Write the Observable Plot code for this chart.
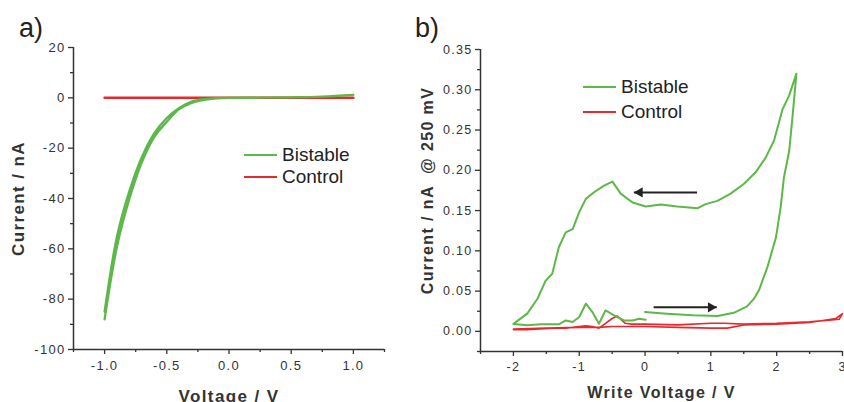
<!DOCTYPE html>
<html><head><meta charset="utf-8">
<script src="https://cdn.jsdelivr.net/npm/d3@7"></script>
<script src="https://cdn.jsdelivr.net/npm/@observablehq/plot@0.6"></script>
<style>
body{margin:0;background:#fff;}
#wrap{position:relative;width:844px;height:402px;overflow:hidden;font-family:"Liberation Sans",Arial,sans-serif;background:#fff;}
.panel{position:absolute;top:0;}
.lab{position:absolute;font-size:27px;line-height:27px;color:#222;}
.leg{position:absolute;font-size:19px;line-height:22px;height:22px;color:#222;display:flex;align-items:center;white-space:nowrap;}
.leg .sw{display:inline-block;width:33px;height:2.5px;margin-right:5px;}
g[aria-label="y-axis tick label"] text, g[aria-label="x-axis tick label"] text{letter-spacing:1.3px;}
g[aria-label="text"] text{letter-spacing:1.4px;}
</style></head>
<body>
<div id="wrap">
  <div class="panel" id="pa" style="left:0;"></div>
  <div class="panel" id="pb" style="left:420px;"></div>
  <div class="lab" style="left:19px;top:15px;">a)</div>
  <div class="lab" style="left:415px;top:15px;">b)</div>
  <div class="leg" style="left:244px;top:144px;"><span class="sw" id="lgA1"></span>Bistable</div>
  <div class="leg" style="left:244px;top:166px;"><span class="sw" id="lgA2"></span>Control</div>
  <div class="leg" style="left:583px;top:76px;"><span class="sw" id="lgB1"></span>Bistable</div>
  <div class="leg" style="left:583px;top:101px;"><span class="sw" id="lgB2"></span>Control</div>
</div>
<script>
// ---- Panel a) data ----
const bistableA_V = [-1.0,-0.9,-0.8,-0.7,-0.6,-0.5,-0.4,-0.3,-0.2,-0.1,0.0,0.25,0.5,0.75,1.0,0.75,0.5,0.25,0.0,-0.1,-0.2,-0.3,-0.4,-0.5,-0.6,-0.7,-0.8,-0.9,-1.0];
const bistableA_I = [-85,-55,-37,-23.5,-14,-8,-4,-1.5,-0.5,-0.1,0,0.1,0.2,0.5,1.2,0.5,0.2,0.05,0,-0.2,-0.8,-2,-4.5,-9.5,-15.5,-25.5,-40,-59,-88];
const controlA_V = [-1.0, 1.0];
const controlA_I = [0, 0];
const xTicksA = [-1.0,-0.5,0.0,0.5,1.0];
const xMinorA = [-1.25,-0.75,-0.25,0.25,0.75,1.25];
const yTicksA = [-100,-80,-60,-40,-20,0,20];
const yMinorA = [-90,-70,-50,-30,-10,10];

// ---- Panel b) data ----
const bistableB_V = [0.0,0.33,0.73,1.1,1.35,1.55,1.65,1.73,1.86,1.99,2.06,2.11,2.19,2.24,2.3,
  2.19,2.09,1.96,1.835,1.68,1.5,1.3,1.1,0.92,0.8,0.49,0.24,0.01,-0.19,-0.37,-0.495,-0.623,-0.775,-0.9,-1.0,-1.1,-1.205,-1.31,-1.41,-1.51,-1.635,-1.79,-1.965,-2.0,
  -1.79,-1.585,-1.31,-1.205,-1.1,-1.0,-0.9,-0.8,-0.7,-0.6,-0.47,-0.32,-0.19,-0.09,0.01];
const bistableB_I = [0.024,0.022,0.020,0.019,0.023,0.031,0.040,0.051,0.080,0.117,0.154,0.191,0.224,0.266,0.32,
  0.293,0.276,0.237,0.216,0.1975,0.183,0.171,0.162,0.158,0.153,0.155,0.1575,0.155,0.160,0.171,0.186,0.181,0.1727,0.1645,0.148,0.127,0.123,0.1045,0.0715,0.063,0.0405,0.022,0.0115,0.009,
  0.0075,0.0087,0.0087,0.0136,0.0116,0.0178,0.0343,0.024,0.0095,0.026,0.0198,0.0136,0.0136,0.0157,0.0145];
const controlB_V = [-2.0,-1.8,-1.6,-1.4,-1.2,-1.0,-0.9,-0.8,-0.7,-0.6,-0.5,-0.42,-0.3,-0.2,0.0,0.5,1.0,1.2,1.5,2.0,2.5,2.8,2.95,3.0,
  2.9,2.5,2.0,1.5,1.25,1.0,0.5,0.0,-0.5,-0.7,-1.0,-1.5,-2.0];
const controlB_I = [0.002,0.002,0.003,0.004,0.004,0.006,0.007,0.006,0.004,0.010,0.016,0.019,0.010,0.009,0.009,0.008,0.010,0.010,0.009,0.010,0.012,0.014,0.015,0.022,
  0.016,0.011,0.009,0.008,0.004,0.004,0.005,0.006,0.006,0.005,0.005,0.004,0.003];
const arrowsB = [{x1:0.79, x2:-0.17, y:0.1725}, {x1:0.13, x2:1.09, y:0.0298}];
const xTicksB = [-2,-1,0,1,2,3];
const xMinorB = [-2.5,-1.5,-0.5,0.5,1.5,2.5];
const yTicksB = [0,0.05,0.10,0.15,0.20,0.25,0.30,0.35];
const yMinorB = [-0.025,0.025,0.075,0.125,0.175,0.225,0.275,0.325];

const GREEN = "#5cb848";
const RED = "#e8282c";
const AX = "#333";
const FONT = "'Liberation Sans', Arial, sans-serif";

const zip = (xs, ys) => xs.map((x, i) => ({x, y: ys[i]}));
const blank = () => "";

document.getElementById("lgA1").style.background = GREEN;
document.getElementById("lgA2").style.background = RED;
document.getElementById("lgB1").style.background = GREEN;
document.getElementById("lgB2").style.background = RED;

const plotA = Plot.plot({
  width: 420, height: 402,
  marginLeft: 73, marginRight: 36, marginTop: 47, marginBottom: 53,
  x: {domain: [-1.25, 1.25]},
  y: {domain: [-100, 20]},
  style: {fontFamily: FONT, fontSize: "13px", color: AX, background: "transparent", overflow: "visible"},
  marks: [
    Plot.axisY({ticks: yTicksA, label: null, tickSize: 5, tickPadding: 3, tickFormat: d => String(d), fontSize: 13, stroke: AX, strokeWidth: 1.3}),
    Plot.axisY({ticks: yMinorA, label: null, tickSize: 3, tickFormat: blank, stroke: AX, strokeWidth: 1.3}),
    Plot.axisX({ticks: xTicksA, label: null, tickSize: 5, tickPadding: 6, tickFormat: d => (d < 0 ? "-" : "") + Math.abs(d).toFixed(1), fontSize: 13, stroke: AX, strokeWidth: 1.3}),
    Plot.axisX({ticks: xMinorA, label: null, tickSize: 3, tickFormat: blank, stroke: AX, strokeWidth: 1.3}),
    Plot.ruleX([-1.25], {stroke: AX, strokeWidth: 1.5}),
    Plot.ruleY([-100], {stroke: AX, strokeWidth: 1.5}),
    Plot.line(zip(controlA_V, controlA_I), {x: "x", y: "y", stroke: RED, strokeWidth: 2.5}),
    Plot.line(zip(bistableA_V, bistableA_I), {x: "x", y: "y", stroke: GREEN, strokeWidth: 2.3, curve: "catmull-rom"}),
    Plot.text(["Voltage / V"], {frameAnchor: "bottom", textAnchor: "middle", dy: 52, fontSize: 17, fontWeight: "bold", fill: AX}),
    Plot.text(["Current / nA"], {frameAnchor: "left", textAnchor: "middle", lineAnchor: "middle", rotate: -90, dx: -55, fontSize: 17, fontWeight: "bold", fill: AX})
  ]
});
document.getElementById("pa").appendChild(plotA);

const plotB = Plot.plot({
  width: 424, height: 402,
  marginLeft: 60, marginRight: 2, marginTop: 49, marginBottom: 51,
  x: {domain: [-2.5, 3]},
  y: {domain: [-0.025, 0.35]},
  style: {fontFamily: FONT, fontSize: "13px", color: AX, background: "transparent", overflow: "visible"},
  marks: [
    Plot.axisY({ticks: yTicksB, label: null, tickSize: 5, tickPadding: 3, tickFormat: d => d.toFixed(2), fontSize: 12.5, stroke: AX, strokeWidth: 1.3}),
    Plot.axisY({ticks: yMinorB, label: null, tickSize: 3, tickFormat: blank, stroke: AX, strokeWidth: 1.3}),
    Plot.axisX({ticks: xTicksB, label: null, tickSize: 5, tickPadding: 6, tickFormat: d => String(d), fontSize: 12.5, stroke: AX, strokeWidth: 1.3}),
    Plot.axisX({ticks: xMinorB, label: null, tickSize: 3, tickFormat: blank, stroke: AX, strokeWidth: 1.3}),
    Plot.ruleX([-2.5], {stroke: AX, strokeWidth: 1.5}),
    Plot.ruleY([-0.025], {stroke: AX, strokeWidth: 1.5}),
    Plot.line(zip(controlB_V, controlB_I), {x: "x", y: "y", stroke: RED, strokeWidth: 1.6}),
    Plot.line(zip(bistableB_V, bistableB_I), {x: "x", y: "y", stroke: GREEN, strokeWidth: 2}),
    Plot.link(arrowsB, {x1: "x1", x2: "x2", y1: "y", y2: "y", stroke: "#222", strokeWidth: 2}),
    Plot.dot(arrowsB, {filter: d => d.x2 < d.x1, x: "x2", y: "y", symbol: "triangle", r: 3.8, fill: "#222", stroke: "none", rotate: -90, dx: 5.9}),
    Plot.dot(arrowsB, {filter: d => d.x2 > d.x1, x: "x2", y: "y", symbol: "triangle", r: 3.8, fill: "#222", stroke: "none", rotate: 90, dx: -5.9}),
    Plot.text(["Write Voltage / V"], {frameAnchor: "bottom", textAnchor: "middle", dy: 46, fontSize: 16, fontWeight: "bold", fill: AX}),
    Plot.text(["Current / nA  @ 250 mV"], {frameAnchor: "left", textAnchor: "middle", lineAnchor: "middle", rotate: -90, dx: -53, dy: -10, fontSize: 16, fontWeight: "bold", fill: AX})
  ]
});
document.getElementById("pb").appendChild(plotB);
</script>
</body></html>
